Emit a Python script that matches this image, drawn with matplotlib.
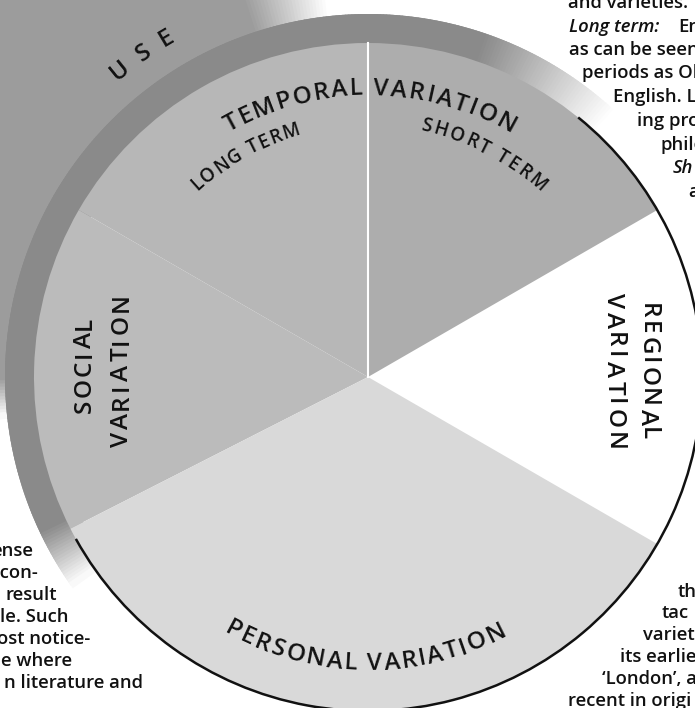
import matplotlib
matplotlib.use("Agg")
import matplotlib.pyplot as plt
import numpy as np
from matplotlib.patches import Wedge, Arc
from matplotlib.font_manager import FontProperties, findfont, get_font

W, H = 695, 708
FONT = "Open Sans"
INK = "#111111"
LABEL_WEIGHT = "semibold"
BODY_WEIGHT = "semibold"

# pie slices, counter-clockwise from the start angle (degrees of the circle)
slices = ["Regional variation", "Short term", "Long term", "Social variation", "Personal variation"]
sizes = [60, 60, 60, 57, 123]
start_angle = -30
slice_colors = ["#ffffff", "#adadad", "#b7b7b7", "#bbbbbb", "#d9d9d9"]

# curved labels: text, baseline radius, middle angle, angular span, font size, side
arc_labels = [
    ("TEMPORAL VARIATION", 282, 89.6, 60, 17.5, "top"),
    ("LONG TERM", 252, 119, 27, 13.5, "top"),
    ("SHORT TERM", 252, 62.5, 31, 13.5, "top"),
    ("USE", 388, 125, 10.5, 17.5, "top"),
    ("PERSONAL VARIATION", 293, 269.5, 58, 17.5, "bottom"),
]
# straight labels: text, centre x, centre y (from top), direction, length, font size
line_labels = [
    ("SOCIAL", 82, 365, 90, 96, 17.5),
    ("VARIATION", 119, 370, 90, 154, 17.5),
    ("REGIONAL", 650, 372, -90, 137, 17.5),
    ("VARIATION", 616, 372, -90, 157, 17.5),
]

# fragments of the page text around the figure
top_right = [
    (568, 7.5, "and varieties.", "normal"),
    (569, 31.5, "Long term:", "italic"),
    (678, 31.5, "En", "normal"),
    (569, 55, "as can be seen", "normal"),
    (582, 78.5, "periods as Ol", "normal"),
    (613, 102, "English. L", "normal"),
    (637, 126, "ing pro", "normal"),
    (660, 149.5, "philo", "normal"),
    (673, 173, "Sh", "italic"),
    (688, 197, "a", "normal"),
]
bottom_right = [
    (678, 597, "th"),
    (662, 618.5, "tac"),
    (643, 640.5, "variet"),
    (620, 662, "its earlie"),
    (602, 684, "\u2018London\u2019, a"),
    (568, 706, "recent in origi"),
]
bottom_left = [
    (33, 556, "ense"),
    (38, 578, "ncon-"),
    (57, 600, "result"),
    (68, 622, "le. Such"),
    (90, 644, "ost notice-"),
    (72, 666, "e where"),
    (143, 688, "n literature and"),
]

cx, cy, R = 368, H - 377, 334

fig = plt.figure(figsize=(W / 100, H / 100), dpi=100)
ax = fig.add_axes([0, 0, 1, 1])


def ring(r_in, r_out, a0, a1, fade0, fade1, level, z):
    step = 0.5
    for a in np.arange(a0, a1, step):
        f = max(0.0, min(1.0, (a - a0) / fade0, (a1 - a) / fade1))
        g = 1 - (1 - level) * f
        ax.add_patch(Wedge((cx, cy), r_out, a, a + step + 0.6, width=r_out - r_in,
                           facecolor=(g, g, g), edgecolor="none", lw=0, zorder=z))


# shaded "use" area and the darker rim round the upper left of the circle
ring(362, 700, 96, 186, 12, 6, 0.61, 0.1)
ring(320, 363, 47, 215, 24, 10, 0.54, 0.2)

wedges, _ = ax.pie(sizes, colors=slice_colors, startangle=start_angle, counterclock=True,
                   radius=R, center=(cx, cy), wedgeprops=dict(linewidth=0), frame=True)
for w in wedges:
    w.set_zorder(1)

div = np.deg2rad(start_angle + sizes[0] + sizes[1])
ax.plot([cx, cx + R * np.cos(div)], [cy, cy + R * np.sin(div)], color="white", lw=1.5, zorder=2)
ax.add_patch(Arc((cx, cy), 2 * R, 2 * R, theta1=209, theta2=411, color=INK, lw=1.8, zorder=3))


def advances(text, size):
    fp = FontProperties(family=FONT, size=size, weight=LABEL_WEIGHT)
    font = get_font(findfont(fp))
    font.set_size(size, 100)
    return np.array([font.load_char(ord(c)).linearHoriAdvance / 65536 for c in text])


def char_centres(text, size, length):
    adv = advances(text, size)
    gap = (length - adv.sum()) / max(len(text) - 1, 1)
    return np.cumsum(adv) - adv / 2 + np.arange(len(text)) * gap


def put(x, y, ch, rot, size):
    ax.text(x, y, ch, rotation=rot, rotation_mode="anchor", ha="center", va="baseline",
            fontsize=size, family=FONT, weight=LABEL_WEIGHT, color=INK, zorder=5)


def arc_text(text, r, mid, span, size, side):
    px = size * 100 / 72
    r_ref = r + 0.36 * px if side == "top" else r - 0.36 * px
    length = np.deg2rad(span) * r_ref
    s = char_centres(text, size, length) - length / 2
    for ch, si in zip(text, s):
        if side == "top":
            a = mid - np.rad2deg(si / r_ref)
            rot = a - 90
        else:
            a = mid + np.rad2deg(si / r_ref)
            rot = a + 90
        t = np.deg2rad(a)
        put(cx + r * np.cos(t), cy + r * np.sin(t), ch, rot, size)


def line_text(text, x, y, angle, length, size):
    px = size * 100 / 72
    d = np.array([np.cos(np.deg2rad(angle)), np.sin(np.deg2rad(angle))])
    n = np.array([-d[1], d[0]])
    base = np.array([x, H - y]) - n * 0.357 * px
    s = char_centres(text, size, length) - length / 2
    for ch, si in zip(text, s):
        p = base + d * si
        put(p[0], p[1], ch, angle, size)


for lab in arc_labels:
    arc_text(*lab)
for lab in line_labels:
    line_text(*lab)

body = dict(va="baseline", fontsize=13.3, family=FONT, weight=BODY_WEIGHT, color=INK)
for x, yb, s, st in top_right:
    ax.text(x, H - yb, s, ha="left", style=st, **body)
for x, yb, s in bottom_right:
    ax.text(x, H - yb, s, ha="left", **body)
for x, yb, s in bottom_left:
    ax.text(x, H - yb, s, ha="right", **body)

ax.set_xlim(0, W)
ax.set_ylim(0, H)
ax.axis("off")
fig.savefig("out.png", dpi=100)
